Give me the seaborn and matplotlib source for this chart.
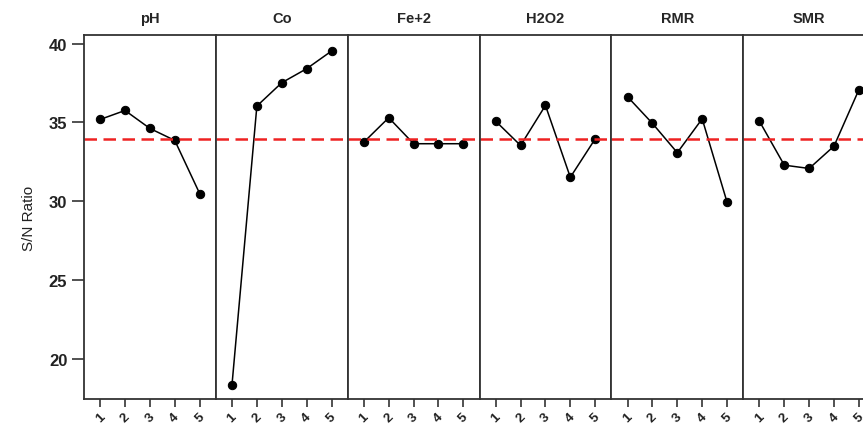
import matplotlib
matplotlib.use("Agg")
import matplotlib.pyplot as plt
import seaborn as sns
import pandas as pd

factors = ["pH", "Co", "Fe+2", "H2O2", "RMR", "SMR"]
levels = [1, 2, 3, 4, 5]
ph_vals = [35.19, 35.76, 34.62, 33.86, 30.49]
co_vals = [18.35, 36.04, 37.52, 38.41, 39.53]
fe_vals = [33.75, 35.30, 33.65, 33.65, 33.65]
h2o2_vals = [35.08, 33.54, 36.08, 31.52, 33.96]
rmr_vals = [36.63, 34.94, 33.08, 35.23, 29.94]
smr_vals = [35.08, 32.29, 32.08, 33.50, 37.08]
mean_sn = 33.98
y_ticks = [20, 25, 30, 35, 40]
y_label = "S/N Ratio"

series = [ph_vals, co_vals, fe_vals, h2o2_vals, rmr_vals, smr_vals]
rows = []
for f, vals in zip(factors, series):
    for lv, v in zip(levels, vals):
        rows.append({"factor": f, "level": lv, "sn": v})
df = pd.DataFrame(rows)

sns.set_theme(style="white")
plt.rcParams["font.family"] = ["Liberation Sans", "DejaVu Sans"]

fig, axes = plt.subplots(1, 6, sharey=True, figsize=(8.63, 4.31), dpi=100)
fig.subplots_adjust(left=0.0973, right=1.014, top=0.9165, bottom=0.0719, wspace=0)

for ax, f in zip(axes, factors):
    sub = df[df["factor"] == f]
    sns.lineplot(data=sub, x="level", y="sn", ax=ax, color="black", lw=1.1,
                 marker="o", markersize=6, markeredgecolor="black", markerfacecolor="black")
    ax.axhline(mean_sn, color="#ee2222", lw=1.8, dashes=(5, 2.6))
    ax.set_title(f, fontsize=10.5, fontweight="bold", pad=9)
    ax.set_xlim(0.35, 5.65)
    ax.set_xticks(levels)
    ax.set_xticklabels([str(l) for l in levels], rotation=45, fontsize=9.5,
                       fontweight="bold", color="#222222")
    ax.set_xlabel("")
    ax.set_ylabel("")
    for s in ax.spines.values():
        s.set_visible(True)
        s.set_color("#333333")
        s.set_linewidth(1.3)
    ax.tick_params(axis="x", direction="out", length=6, width=1.2, color="#333333", pad=2, bottom=True)
    ax.tick_params(axis="y", left=False)

ax0 = axes[0]
ax0.set_ylim(17.45, 40.55)
ax0.set_yticks(y_ticks)
ax0.set_yticklabels([str(t) for t in y_ticks], fontsize=12, fontweight="bold", color="#222222")
ax0.tick_params(axis="y", left=True, direction="out", length=9, width=1.2, color="#333333", pad=3)
ax0.set_ylabel(y_label, fontsize=11, labelpad=9, color="#222222")

fig.savefig("out.png", dpi=100)
